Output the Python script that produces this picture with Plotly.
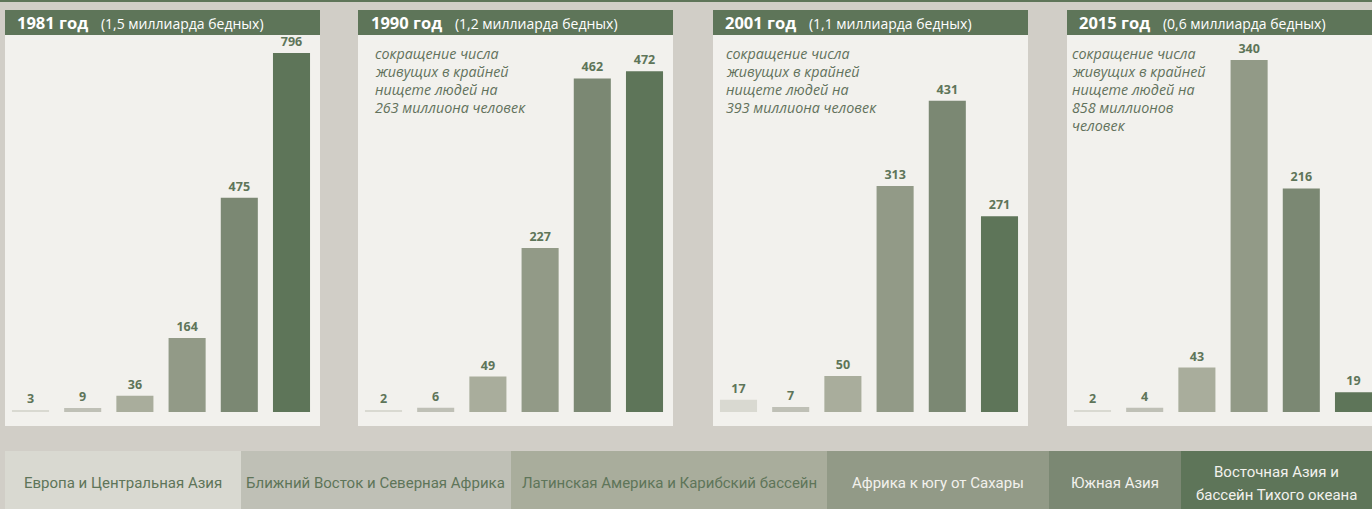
import plotly.graph_objects as go

# ---------------- data ----------------
regions = ["Европа и Центральная Азия", "Ближний Восток и Северная Африка",
           "Латинская Америка и Карибский бассейн", "Африка к югу от Сахары",
           "Южная Азия", "Восточная Азия и<br>бассейн Тихого океана"]
years = ["1981 год", "1990 год", "2001 год", "2015 год"]
subtitles = ["(1,5 миллиарда бедных)", "(1,2 миллиарда бедных)",
             "(1,1 миллиарда бедных)", "(0,6 миллиарда бедных)"]
values_1981 = [3, 9, 36, 164, 475, 796]
values_1990 = [2, 6, 49, 227, 462, 472]
values_2001 = [17, 7, 50, 313, 431, 271]
values_2015 = [2, 4, 43, 340, 216, 19]
notes = [None,
         ["сокращение числа", "живущих в крайней", "нищете людей на", "263 миллиона человек"],
         ["сокращение числа", "живущих в крайней", "нищете людей на", "393 миллиона человек"],
         ["сокращение числа", "живущих в крайней", "нищете людей на", "858 миллионов", "человек"]]
series = [values_1981, values_1990, values_2001, values_2015]

# ---------------- style ----------------
W, H = 1372, 509
BG = "#d1cec7"
PANEL = "#f2f1ed"
GREEN = "#5e7559"
colors = ["#d9d9d1", "#bfc0b6", "#a9ad9c", "#929a87", "#7b8873", "#5e7559"]
legend_text_colors = [GREEN, GREEN, GREEN, "#f2f1ed", "#f2f1ed", "#f2f1ed"]
FONT = "Open Sans, Noto Sans, sans-serif"
NARROW = "Roboto, sans-serif"

panel_x = [5, 358, 713, 1067]
panel_w = 315
slot = 52.2
y_bottom, y_top = 412, 40
px_per_unit = [0.451, 0.722, 0.722, 1.035]
note_x = [None, 373, 724, 1070]
title_x = [15, 369, 723, 1077]
legend_edges = [5, 241, 511, 827, 1049, 1181, 1372]


def fx(px):
    return px / W


def fy(py):
    return 1 - py / H


fig = go.Figure()
shapes = []
annotations = []

# top strip
shapes.append(dict(type="rect", xref="paper", yref="paper", x0=0, x1=1,
                   y0=fy(2), y1=1, fillcolor=GREEN, line_width=0, layer="below"))

for i, vals in enumerate(series):
    n = "" if i == 0 else str(i + 1)
    x0 = panel_x[i]
    x1 = min(x0 + panel_w, W)
    shapes.append(dict(type="rect", xref="paper", yref="paper", x0=fx(x0), x1=fx(x1),
                       y0=fy(426), y1=fy(35), fillcolor=PANEL, line_width=0, layer="below"))
    shapes.append(dict(type="rect", xref="paper", yref="paper", x0=fx(x0), x1=fx(x1),
                       y0=fy(35), y1=fy(10), fillcolor=GREEN, line_width=0, layer="below"))
    ax_left = x0 - 0.6
    ax_right = min(ax_left + 6 * slot, W)
    rng_hi = -0.5 + (ax_right - ax_left) / slot
    fig.add_trace(go.Bar(
        x=regions, y=vals, marker_color=colors, marker_line_width=0,
        text=vals, textposition="outside", cliponaxis=False,
        textfont=dict(family=FONT, size=12.5, color=GREEN, weight="bold"),
        xaxis="x" + n, yaxis="y" + n, showlegend=False, hoverinfo="x+y"))
    fig.layout["xaxis" + n] = dict(domain=[fx(ax_left), fx(ax_right)], range=[-0.5, rng_hi],
                                   visible=False, anchor="y" + n, fixedrange=True)
    fig.layout["yaxis" + n] = dict(domain=[fy(y_bottom), fy(y_top)],
                                   range=[0, (y_bottom - y_top) / px_per_unit[i]],
                                   visible=False, anchor="x" + n, fixedrange=True)
    annotations.append(dict(
        xref="paper", yref="paper", x=fx(title_x[i]), y=fy(22.5), xanchor="left", yanchor="middle",
        showarrow=False,
        text=f"<b>{years[i]}</b>   <span style='font-size:14px'>{subtitles[i]}</span>",
        font=dict(family=FONT, size=16.5, color="#ffffff")))
    if notes[i]:
        for k, line in enumerate(notes[i]):
            annotations.append(dict(
                xref="paper", yref="paper", x=fx(note_x[i]), y=fy(53.5 + 18 * k),
                xanchor="left", yanchor="middle", showarrow=False, align="left",
                text=f"<i>{line}</i>",
                font=dict(family=FONT, size=14.3, color="#62725c")))

# legend strip
for j, name in enumerate(regions):
    shapes.append(dict(type="rect", xref="paper", yref="paper",
                       x0=fx(legend_edges[j]), x1=fx(legend_edges[j + 1]),
                       y0=0, y1=fy(451), fillcolor=colors[j], line_width=0, layer="below"))
    lines = name.split("<br>")
    centers = [483] if len(lines) == 1 else [472, 495]
    for line, cy in zip(lines, centers):
        annotations.append(dict(
            xref="paper", yref="paper", x=fx((legend_edges[j] + legend_edges[j + 1]) / 2),
            y=fy(cy), xanchor="center", yanchor="middle", showarrow=False, text=line,
            font=dict(family=NARROW, size=15, color=legend_text_colors[j])))

fig.update_layout(
    width=W, height=H, margin=dict(l=0, r=0, t=0, b=0),
    paper_bgcolor=BG, plot_bgcolor="rgba(0,0,0,0)",
    bargap=0.29, shapes=shapes, annotations=annotations,
    font=dict(family=FONT))

fig.write_html("out.html", config={"displayModeBar": False},
               post_script="document.body.style.margin='0';document.body.style.background='#d1cec7';")
